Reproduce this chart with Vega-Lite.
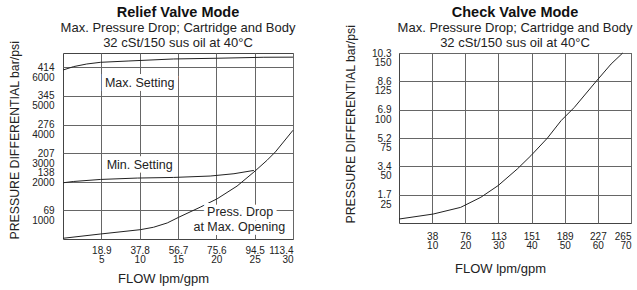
{
  "$schema": "https://vega.github.io/schema/vega-lite/v6.json",
  "padding": {"left": 8, "top": 4, "right": 5, "bottom": 4},
  "background": "white",
  "spacing": 106,
  "bounds": "flush",
  "config": {
    "font": "Liberation Sans",
    "view": {"stroke": "#444", "strokeWidth": 1},
    "axis": {
      "domain": false, "ticks": false, "grid": true, "gridColor": "#666", "gridWidth": 1,
      "labelOverlap": false,
      "labelFont": "Liberation Sans", "labelFontSize": 10, "labelColor": "#222", "labelLineHeight": 9.5,
      "titleFont": "Liberation Sans", "titleFontSize": 13, "titleFontWeight": "normal", "titleColor": "#222"
    },
    "title": {
      "font": "Liberation Sans", "fontSize": 14.5, "fontWeight": "bold", "color": "#111",
      "subtitleFont": "Liberation Sans", "subtitleFontSize": 13, "subtitleColor": "#222",
      "subtitleLineHeight": 15, "subtitlePadding": 1, "anchor": "middle", "frame": "group"
    }
  },
  "datasets": {
    "relief": [
      {"series": "max", "gpm": 0, "psi": 5905},
      {"series": "max", "gpm": 1.4, "psi": 6025},
      {"series": "max", "gpm": 3.1, "psi": 6116},
      {"series": "max", "gpm": 4.9, "psi": 6175},
      {"series": "max", "gpm": 8.6, "psi": 6221},
      {"series": "max", "gpm": 14.4, "psi": 6291},
      {"series": "max", "gpm": 20, "psi": 6316},
      {"series": "max", "gpm": 26.2, "psi": 6351},
      {"series": "max", "gpm": 30, "psi": 6355},
      {"series": "min", "gpm": 0, "psi": 1965},
      {"series": "min", "gpm": 1.4, "psi": 2011},
      {"series": "min", "gpm": 4.9, "psi": 2081},
      {"series": "min", "gpm": 9.7, "psi": 2130},
      {"series": "min", "gpm": 14.4, "psi": 2151},
      {"series": "min", "gpm": 19.2, "psi": 2200},
      {"series": "min", "gpm": 22.3, "psi": 2281},
      {"series": "min", "gpm": 24.9, "psi": 2397},
      {"series": "drop", "gpm": 0, "psi": 25},
      {"series": "drop", "gpm": 4.9, "psi": 175},
      {"series": "drop", "gpm": 10.1, "psi": 326},
      {"series": "drop", "gpm": 11.8, "psi": 410},
      {"series": "drop", "gpm": 13.6, "psi": 561},
      {"series": "drop", "gpm": 15.1, "psi": 761},
      {"series": "drop", "gpm": 17.9, "psi": 1112},
      {"series": "drop", "gpm": 20.1, "psi": 1404},
      {"series": "drop", "gpm": 22.7, "psi": 1849},
      {"series": "drop", "gpm": 24.9, "psi": 2340},
      {"series": "drop", "gpm": 26.6, "psi": 2747},
      {"series": "drop", "gpm": 27.7, "psi": 3042},
      {"series": "drop", "gpm": 30, "psi": 3800}
    ],
    "reliefLabels": [
      {"gpm": 10, "psi": 5460, "label": "Max. Setting"},
      {"gpm": 10, "psi": 2570, "label": "Min. Setting"},
      {"gpm": 23.1, "psi": 937, "label": "Press. Drop"},
      {"gpm": 23, "psi": 411, "label": "at Max. Opening"}
    ],
    "check": [
      {"gpm": 0, "psi": 3.5},
      {"gpm": 10.3, "psi": 7.9},
      {"gpm": 18.6, "psi": 13.8},
      {"gpm": 24.7, "psi": 22.7},
      {"gpm": 29.9, "psi": 33},
      {"gpm": 35.7, "psi": 47.7},
      {"gpm": 39.8, "psi": 59.4},
      {"gpm": 44.8, "psi": 75},
      {"gpm": 48.9, "psi": 90.3},
      {"gpm": 52.9, "psi": 102},
      {"gpm": 59.4, "psi": 124.7},
      {"gpm": 64, "psi": 140.3},
      {"gpm": 67.5, "psi": 150}
    ]
  },
  "hconcat": [
    {
      "width": 230,
      "height": 186,
      "title": {"text": "Relief Valve Mode", "subtitle": ["Max. Pressure Drop; Cartridge and Body", "32 cSt/150 sus oil at 40°C"], "offset": -14},
      "layer": [
        {
          "data": {"name": "relief"},
          "mark": {"type": "line", "color": "#222", "strokeWidth": 1},
          "encoding": {
            "x": {
              "field": "gpm", "type": "quantitative",
              "scale": {"domain": [0, 30], "nice": false},
              "axis": {
                "values": [5, 10, 15, 20, 25, 30],
                "tickCount": 20,
                "labelOverlap": false,
                "labelExpr": "[format(datum.value*3.78,'.1f'), format(datum.value,'d')]",
                "labelPadding": 6,
                "title": "FLOW lpm/gpm",
                "titlePadding": 8,
                "titleX": 100
              }
            },
            "y": {
              "field": "psi", "type": "quantitative",
              "scale": {"domain": [0, 6500], "nice": false},
              "axis": {
                "values": [1000, 2000, 3000, 4000, 5000, 6000],
                "tickCount": 20,
                "labelOverlap": false,
                "labelExpr": "[format(datum.value*0.0689476,'.0f'), format(datum.value,'d')]",
                "labelPadding": 9,
                "labelLineHeight": 10,
                "labelOffset": {"condition": {"test": "datum.value === 2000", "value": -9}, "value": 0},
                "title": "PRESSURE DIFFERENTIAL  bar/psi",
                "titleFontSize": 12.3,
                "titleAnchor": "start",
                "titlePadding": 10
              }
            },
            "detail": {"field": "series"}
          }
        },
        {
          "data": {"name": "reliefLabels"},
          "mark": {"type": "text", "fontSize": 12.5, "color": "white", "stroke": "white", "strokeWidth": 8, "baseline": "middle", "align": "center"},
          "encoding": {
            "x": {"field": "gpm", "type": "quantitative"},
            "y": {"field": "psi", "type": "quantitative"},
            "text": {"field": "label"}
          }
        },
        {
          "data": {"name": "reliefLabels"},
          "mark": {"type": "text", "fontSize": 12.5, "color": "#222", "baseline": "middle", "align": "center"},
          "encoding": {
            "x": {"field": "gpm", "type": "quantitative"},
            "y": {"field": "psi", "type": "quantitative"},
            "text": {"field": "label"}
          }
        }
      ]
    },
    {
      "width": 232,
      "height": 170,
      "title": {"text": "Check Valve Mode", "subtitle": ["Max. Pressure Drop; Cartridge and Body", "32 cSt/150 sus oil at 40°C"], "offset": -30},
      "data": {"name": "check"},
      "mark": {"type": "line", "color": "#222", "strokeWidth": 1},
      "encoding": {
        "x": {
          "field": "gpm", "type": "quantitative",
          "scale": {"domain": [0, 70], "nice": false},
          "axis": {
            "values": [10, 20, 30, 40, 50, 60, 70],
            "tickCount": 20,
            "labelOverlap": false,
            "labelExpr": "[format(datum.value*3.78,'.0f'), format(datum.value,'d')]",
            "labelPadding": 8,
            "title": "FLOW lpm/gpm",
            "titlePadding": 12,
            "titleX": 101
          }
        },
        "y": {
          "field": "psi", "type": "quantitative",
          "scale": {"domain": [0, 150], "nice": false},
          "axis": {
            "values": [25, 50, 75, 100, 125, 150],
            "tickCount": 20,
            "labelOverlap": false,
            "labelExpr": "[format(datum.value*0.0689476,'.1f'), format(datum.value,'d')]",
            "labelPadding": 8,
            "labelLineHeight": 9.5,
            "title": "PRESSURE DIFFERENTIAL  bar/psi",
            "titleFontSize": 12.3,
            "titleAnchor": "start",
            "titlePadding": 14
          }
        }
      }
    }
  ]
}
